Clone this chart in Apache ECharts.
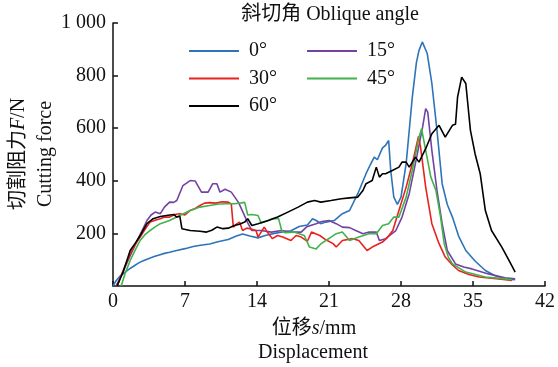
<!DOCTYPE html>
<html>
<head>
<meta charset="utf-8">
<script src="https://cdn.jsdelivr.net/npm/echarts@6/dist/echarts.min.js"></script>
<style>
  html, body { margin: 0; padding: 0; background: #fff; }
  #chart { width: 558px; height: 367px; }
</style>
</head>
<body>
<div id="chart"></div>
<script>
// cutting force (N) vs displacement (mm)
const angle0 = [
  [0,0],[0.3,20],[0.7,38],[1.0,47],[1.5,62],[2.0,75],[2.5,88],[3.0,97],[3.5,105],[4.0,112],
  [4.5,118],[5.0,124],[5.5,128],[6.2,135],[7.0,142],[7.8,150],[8.5,155],[9.4,160],[10.2,168],
  [11.2,177],[12.0,190],[12.6,198],[13.3,190],[14.1,183],[14.8,192],[15.7,200],[16.5,205],
  [17.3,210],[18.1,226],[18.9,232],[19.4,256],[19.8,248],[20.2,237],[20.7,243],[21.5,249],
  [22.3,275],[23.0,287],[23.8,351],[24.6,427],[25.0,460],[25.4,490],[25.7,480],[26.2,525],
  [26.5,535],[26.8,553],[27.0,440],[27.3,338],[27.65,310],[28.0,338],[28.5,465],[29.1,718],
  [29.5,850],[29.75,896],[30.07,928],[30.55,884],[31.0,770],[31.5,592],[32.0,389],[32.5,310],
  [33.0,262],[33.6,190],[34.3,135],[35.2,95],[36.2,59],[37.1,40],[38.1,27],[39.1,24]
];
const angle15 = [
  [0.3,0],[0.8,40],[1.5,100],[2.2,160],[2.7,200],[3.3,249],[3.7,270],[4.1,281],[4.6,275],
  [5.0,300],[5.5,319],[5.9,318],[6.2,325],[6.8,382],[7.5,401],[8.0,399],[8.6,357],[9.25,357],
  [9.7,389],[10.1,389],[10.4,357],[10.9,368],[11.5,357],[12.2,318],[12.6,284],[13.1,240],
  [13.5,211],[14.4,211],[15.4,205],[16.4,211],[17.3,205],[18.3,205],[18.8,224],[19.2,230],
  [19.75,237],[20.3,245],[21.0,249],[21.7,237],[22.3,224],[23.0,222],[23.6,211],[24.3,199],
  [24.9,205],[25.6,205],[25.9,173],[26.5,180],[27.0,195],[27.5,211],[28.1,262],[28.8,351],
  [29.4,465],[30.1,604],[30.4,674],[30.6,661],[31.0,516],[31.5,363],[32.0,237],[32.5,135],
  [33.3,84],[34.1,72],[34.9,65],[36.5,46],[38.1,31],[39.1,27]
];
const angle30 = [
  [0.4,0],[1.0,60],[1.67,122],[2.2,160],[2.64,186],[3.1,215],[3.6,243],[4.1,250],[4.6,256],
  [5.0,262],[5.5,262],[6.0,272],[6.5,275],[7.0,270],[7.5,287],[8.0,295],[8.45,306],[8.9,315],
  [9.4,317],[10.0,315],[10.6,320],[11.2,319],[11.5,312],[11.7,224],[12.0,235],[12.3,243],
  [12.6,211],[13.0,220],[13.3,218],[13.9,211],[14.1,186],[14.7,224],[15.0,205],[15.5,180],
  [16.0,192],[16.5,186],[17.3,173],[17.8,192],[18.3,186],[18.9,170],[19.3,205],[20.1,192],
  [20.6,178],[21.4,161],[21.7,148],[22.3,173],[23.3,180],[23.9,173],[24.7,135],[25.2,148],
  [26.2,167],[26.7,185],[27.2,211],[27.8,287],[28.5,376],[29.1,465],[29.7,569],[29.9,528],
  [30.4,376],[31.0,237],[31.7,161],[32.3,110],[33.0,80],[33.6,59],[34.6,44],[35.6,34],
  [37.5,27],[38.8,21]
];
const angle45 = [
  [0.8,0],[1.2,50],[1.67,97],[2.2,140],[2.64,173],[3.1,195],[3.6,211],[4.1,225],[4.6,237],
  [5.5,249],[6.5,268],[7.5,287],[8.45,300],[9.4,306],[10.3,312],[11.2,313],[11.8,313],
  [12.5,316],[12.8,318],[13.1,270],[13.5,272],[14.1,268],[14.4,240],[15.0,248],[15.5,256],
  [16.1,256],[16.4,211],[16.7,203],[17.6,205],[18.1,199],[18.6,192],[19.1,148],[19.75,141],
  [20.2,160],[20.7,173],[21.2,186],[21.7,199],[22.3,205],[23.0,173],[23.9,186],[24.9,199],
  [25.6,199],[26.2,230],[26.8,237],[27.3,262],[27.8,262],[28.5,338],[29.1,440],[29.75,566],
  [30.0,598],[30.4,516],[30.9,414],[31.4,363],[31.85,262],[32.2,161],[32.6,110],[33.0,84],
  [34.3,53],[36.2,34],[38.1,27],[38.8,24]
];
const angle60 = [
  [0.4,0],[1.0,55],[1.67,135],[2.2,165],[2.64,192],[3.3,237],[3.9,256],[4.6,264],[5.2,268],
  [5.9,272],[6.2,262],[6.5,265],[6.7,218],[7.5,211],[8.45,208],[9.1,205],[9.6,212],[10.1,224],
  [10.7,218],[11.2,220],[11.8,230],[12.3,235],[12.8,243],[13.1,256],[13.5,230],[14.1,237],
  [15.1,249],[16.0,262],[17.0,281],[18.0,300],[18.9,319],[19.6,325],[20.2,319],[21.2,325],
  [22.2,332],[23.0,335],[23.8,338],[24.3,363],[24.6,389],[25.2,401],[25.6,452],[25.9,414],
  [26.2,427],[26.5,427],[27.2,440],[27.8,452],[28.1,471],[28.5,471],[28.8,452],[29.4,490],
  [29.75,471],[30.4,522],[31.0,579],[31.7,611],[32.3,566],[33.0,611],[33.3,615],[33.5,718],
  [33.9,794],[34.3,770],[34.75,592],[35.2,503],[35.7,427],[36.2,287],[36.8,211],[37.8,148],
  [38.5,97],[39.1,53]
];

const seriesNames = ['0°', '15°', '30°', '45°', '60°'];
const seriesColors = ['#2e74b8', '#7243a3', '#e8221e', '#43b24c', '#000000'];
const seriesData = [angle0, angle15, angle30, angle45, angle60];

const serif = "'Liberation Serif', 'Noto Sans CJK SC', serif";
const black = '#111';

// axis labels and legend are drawn through rich text so the serif face sticks
const richSerif = { t: { fontFamily: serif, fontSize: 20, color: black } };

const chart = echarts.init(document.getElementById('chart'), null, { renderer: 'canvas' });

const legendBase = {
  orient: 'vertical',
  top: 41,
  padding: 0,
  itemWidth: 50,
  itemHeight: 14,
  itemGap: 7.5,
  itemStyle: { opacity: 0 },
  formatter: name => '{t|' + name + '}',
  textStyle: { fontFamily: serif, fontSize: 20, color: black, lineHeight: 20, padding: [0, 0, 0, 5], rich: richSerif }
};

chart.setOption({
  animation: false,
  backgroundColor: '#fff',
  textStyle: { fontFamily: serif },
  grid: { left: 113, top: 23, width: 434, height: 263 },
  legend: [
    Object.assign({ left: 188, data: ['0°', '30°', '60°'] }, legendBase),
    Object.assign({ left: 306, data: ['15°', '45°'] }, legendBase)
  ],
  xAxis: {
    type: 'value',
    min: 0,
    max: 42,
    interval: 7,
    axisLine: { lineStyle: { color: black, width: 1.5 } },
    axisTick: { inside: true, length: 5, lineStyle: { color: black, width: 1.5 } },
    axisLabel: {
      fontFamily: serif, fontSize: 20, color: black, margin: 6, rich: richSerif,
      formatter: v => '{t|' + v + '}'
    },
    splitLine: { show: false }
  },
  yAxis: {
    type: 'value',
    min: 0,
    max: 1000,
    interval: 200,
    axisLine: { show: true, lineStyle: { color: black, width: 1.5 } },
    axisTick: { show: true, inside: true, length: 5, lineStyle: { color: black, width: 1.5 } },
    axisLabel: {
      fontFamily: serif, fontSize: 20, color: black, margin: 7, rich: richSerif,
      showMinLabel: false,
      formatter: v => '{t|' + (v === 1000 ? '1 000' : String(v)) + '}'
    },
    splitLine: { show: false }
  },
  graphic: [
    {
      type: 'text', x: 330, y: 15,
      style: {
        text: '斜切角 Oblique angle', font: '20px ' + serif, fill: black,
        textAlign: 'center', textVerticalAlign: 'middle'
      }
    },
    {
      type: 'text', x: 19, y: 154, rotation: Math.PI / 2,
      style: {
        text: '{a|切割阻力}{i|F}{a|/N}', fill: black,
        textAlign: 'center', textVerticalAlign: 'middle',
        rich: {
          a: { fontFamily: serif, fontSize: 20, fill: black },
          i: { fontFamily: serif, fontSize: 20, fontStyle: 'italic', fill: black }
        }
      }
    },
    {
      type: 'text', x: 46, y: 154, rotation: Math.PI / 2,
      style: {
        text: 'Cutting force', font: '20px ' + serif, fill: black,
        textAlign: 'center', textVerticalAlign: 'middle'
      }
    },
    {
      type: 'text', x: 314, y: 329,
      style: {
        text: '{a|位移}{i|s}{a|/mm}', fill: black,
        textAlign: 'center', textVerticalAlign: 'middle',
        rich: {
          a: { fontFamily: serif, fontSize: 20, fill: black },
          i: { fontFamily: serif, fontSize: 20, fontStyle: 'italic', fill: black }
        }
      }
    },
    {
      type: 'text', x: 313, y: 353,
      style: {
        text: 'Displacement', font: '20px ' + serif, fill: black,
        textAlign: 'center', textVerticalAlign: 'middle'
      }
    }
  ],
  series: seriesNames.map((name, i) => ({
    name: name,
    type: 'line',
    data: seriesData[i],
    symbol: 'none',
    showSymbol: false,
    smooth: false,
    color: seriesColors[i],
    lineStyle: { width: 1.6, color: seriesColors[i] },
    z: i === 4 ? 3 : 2
  }))
});
</script>
</body>
</html>
